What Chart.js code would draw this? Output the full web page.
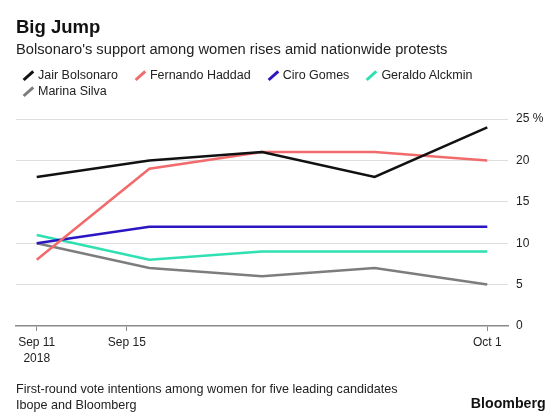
<!DOCTYPE html>
<html>
<head>
<meta charset="utf-8">
<script src="https://cdn.jsdelivr.net/npm/chart.js@4"></script>
<style>
  body { margin: 0; background: #fff; font-family: "Liberation Sans", Arial, sans-serif; color: #222; }
  #wrap { position: relative; width: 560px; height: 417px; overflow: hidden; }
  #chart { position: absolute; left: 0; top: 0; }
  .txt { position: absolute; white-space: nowrap; }
  #title { left: 16px; top: 16px; font-size: 18.5px; line-height: 22px; font-weight: bold; color: #111; }
  #subtitle { left: 16px; top: 40px; font-size: 14.7px; line-height: 18px; }
  #legend { position: absolute; left: 23px; top: 67px; width: 520px; display: flex; flex-wrap: wrap; font-size: 12.5px; line-height: 16px; }
  .item { display: flex; align-items: center; margin-right: 17px; }
  .mark { display: inline-block; width: 10px; height: 16px; position: relative; margin-right: 5px; }
  .mark i { position: absolute; left: 4px; top: 2px; width: 2.6px; height: 13px; transform: rotate(48deg); }
  #note { left: 16px; top: 380.6px; font-size: 12.6px; line-height: 16.7px; }
  #brand { right: 14.3px; top: 394.6px; font-size: 14.2px; line-height: 17px; font-weight: bold; color: #111; }
</style>
</head>
<body>
<div id="wrap">
  <canvas id="chart" width="560" height="417"></canvas>
  <div class="txt" id="title">Big Jump</div>
  <div class="txt" id="subtitle">Bolsonaro's support among women rises amid nationwide protests</div>
  <div id="legend"></div>
  <div class="txt" id="note">First-round vote intentions among women for five leading candidates<br>Ibope and Bloomberg</div>
  <div class="txt" id="brand">Bloomberg</div>
</div>
<script>
// Poll dates (Ibope)
const pollDates = ['2018-09-11', '2018-09-16', '2018-09-21', '2018-09-26', '2018-10-01'];

// Vote intentions among women (%)
const bolsonaro = [18, 20, 21, 18, 24];
const haddad    = [8, 19, 21, 21, 20];
const ciro      = [10, 12, 12, 12, 12];
const alckmin   = [11, 8, 9, 9, 9];
const marina    = [10, 7, 6, 7, 5];

const seriesNames  = ['Jair Bolsonaro', 'Fernando Haddad', 'Ciro Gomes', 'Geraldo Alckmin', 'Marina Silva'];
const seriesColors = ['#111111', '#f26b6c', '#2b17c2', '#2fe0b2', '#7d7d7d'];

// x axis tick labels
const tickDates  = ['2018-09-11', '2018-09-15', '2018-10-01'];
const tickLabels = [['Sep 11', '2018'], ['Sep 15'], ['Oct 1']];

// y axis
const yTicks = [0, 5, 10, 15, 20, 25];

const dayMs = 24 * 3600 * 1000;
const start = Date.parse(pollDates[0]);
const toDay = d => (Date.parse(d) - start) / dayMs;
const xDays = pollDates.map(toDay);
const tickDays = tickDates.map(toDay);

const allSeries = [bolsonaro, haddad, ciro, alckmin, marina];

// html legend
const legend = document.getElementById('legend');
seriesNames.forEach((name, i) => {
  const item = document.createElement('div');
  item.className = 'item';
  item.innerHTML = '<span class="mark"><i style="background:' + seriesColors[i] + '"></i></span><span>' + name + '</span>';
  legend.appendChild(item);
});

const ctx = document.getElementById('chart').getContext('2d');
const chart = new Chart(ctx, {
  type: 'line',
  data: {
    datasets: allSeries.map((vals, i) => ({
      label: seriesNames[i],
      data: vals.map((v, j) => ({ x: xDays[j], y: v })),
      borderColor: seriesColors[i],
      borderWidth: 2.5,
      pointRadius: 0,
      tension: 0,
      fill: false
    }))
  },
  options: {
    responsive: false,
    animation: false,
    devicePixelRatio: 1,
    layout: { padding: { top: 119, left: 16, right: 0, bottom: 0 } },
    plugins: {
      legend: { display: false },
      tooltip: { enabled: false }
    },
    scales: {
      x: {
        type: 'linear',
        min: -0.92,
        max: 20.92,
        afterFit: scale => { scale.height = 91; },
        afterBuildTicks: scale => { scale.ticks = tickDays.map(v => ({ value: v })); },
        border: { display: true, color: '#8a8a8a', width: 1.5 },
        grid: { display: true, drawOnChartArea: false, drawTicks: true, tickLength: 5, color: '#8a8a8a', lineWidth: 1 },
        ticks: {
          autoSkip: false,
          maxRotation: 0,
          padding: 4,
          color: '#222',
          font: { family: '"Liberation Sans", Arial, sans-serif', size: 12, lineHeight: 1.3 },
          callback: (v) => {
            const i = tickDays.indexOf(v);
            return i >= 0 ? tickLabels[i] : '';
          }
        }
      },
      y: {
        position: 'right',
        min: 0,
        max: 25,
        afterFit: scale => { scale.width = 52; },
        afterBuildTicks: scale => { scale.ticks = yTicks.map(v => ({ value: v })); },
        border: { display: false },
        grid: {
          drawTicks: false,
          lineWidth: 1,
          color: c => (c.tick && c.tick.value === 0) ? 'rgba(0,0,0,0)' : '#dedede'
        },
        ticks: {
          padding: 8,
          color: '#222',
          font: { family: '"Liberation Sans", Arial, sans-serif', size: 12 },
          callback: v => v === 25 ? '25 %' : String(v)
        }
      }
    }
  }
});
</script>
</body>
</html>
